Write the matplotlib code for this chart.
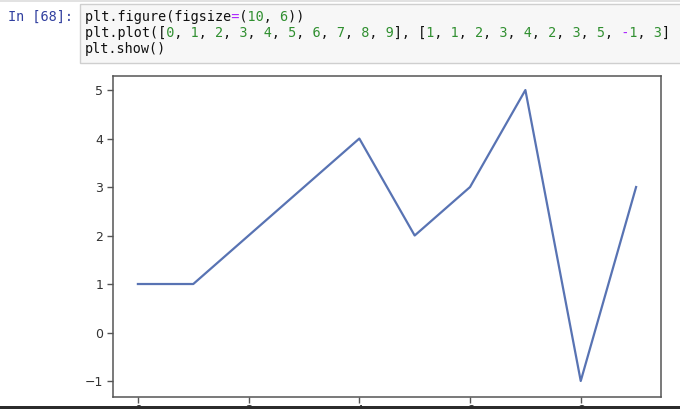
import matplotlib.pyplot as plt
from matplotlib.patches import Rectangle

# data shown in the notebook cell
x_vals = [0, 1, 2, 3, 4, 5, 6, 7, 8, 9]
y_vals = [1, 1, 2, 3, 4, 2, 3, 5, -1, 3]
x_ticks = [0, 2, 4, 6, 8]
y_ticks = [-1, 0, 1, 2, 3, 4, 5]

prompt = "In [68]:"
code_lines = [
    "plt.figure(figsize=(10, 6))",
    "plt.plot([0, 1, 2, 3, 4, 5, 6, 7, 8, 9], [1, 1, 2, 3, 4, 2, 3, 5, -1, 3]",
    "plt.show()",
]

W, H = 680, 409
fig = plt.figure(figsize=(W / 100, H / 100), dpi=100)
fig.patch.set_facecolor('white')

# code cell box
fig.patches.append(Rectangle((80 / W, 1 - 63 / H), 620 / W, 59 / H, transform=fig.transFigure,
                             facecolor='#f7f7f7', edgecolor='#cfcfcf', linewidth=1, zorder=0))
fig.patches.append(Rectangle((0, 1 - 1.5 / H), 1, 1.5 / H, transform=fig.transFigure,
                             facecolor='#e2e2e2', edgecolor='none', zorder=0))

mono = dict(family='DejaVu Sans Mono', fontsize=9.75, va='center', ha='left')
fig.text(8 / W, 1 - 17 / H, prompt, color='#303f9f', **mono)


def color_of(line, i):
    ch = line[i]
    if ch.isdigit():
        return '#2f8f2f'
    if ch == '=' or (ch == '-' and i + 1 < len(line) and line[i + 1].isdigit()):
        return '#aa22ff'
    return '#111111'


# monospace overlay: one string per colour, other chars blanked
for k, line in enumerate(code_lines):
    cols = [color_of(line, i) for i in range(len(line))]
    for c in set(cols):
        s = ''.join(ch if cols[i] == c else ' ' for i, ch in enumerate(line))
        fig.text(85 / W, 1 - (17 + 16 * k) / H, s, color=c, **mono)

# the plot output
ax = fig.add_axes([113 / W, 12 / H, 548 / W, 321.5 / H])
ax.plot(x_vals, y_vals, color='#5873b3', linewidth=1.6)
ax.set_xticks(x_ticks)
ax.set_yticks(y_ticks)
ax.set_xlim(-0.45, 9.45)
ax.set_ylim(-1.33, 5.3)
for sp in ax.spines.values():
    sp.set_color('#555555')
    sp.set_linewidth(1.1)
ax.tick_params(direction='out', length=4, width=1, color='#555555',
               labelsize=9, labelcolor='#333333', pad=3)
ax.tick_params(axis='x', pad=1)

# dark strip along the bottom edge of the screenshot (hides most of the x labels)
fig.patches.append(Rectangle((0, 0), 1, 3.4 / H, transform=fig.transFigure,
                             facecolor='#2b2b2b', edgecolor='none', zorder=10))

fig.savefig('out.png', dpi=100)
